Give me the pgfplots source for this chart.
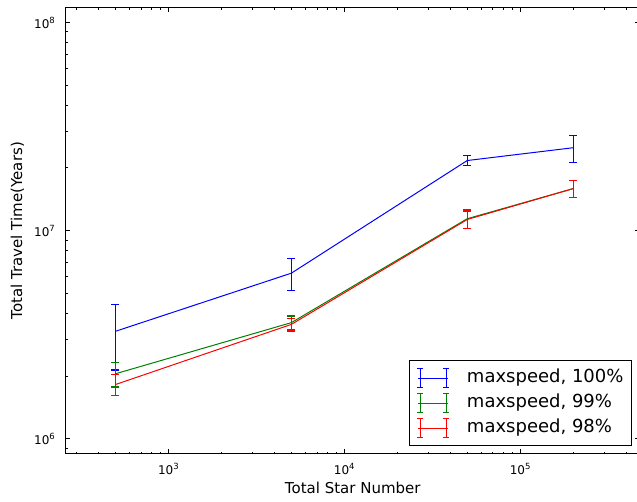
\documentclass[border=0pt]{standalone}
\usepackage{fontspec}
\setmainfont{DejaVu Sans}
\usepackage{pgfplots}
\pgfplotsset{compat=1.18}

\definecolor{mplgreen}{RGB}{0,128,0}
\newcommand{\tkf}{\fontsize{12}{14}\selectfont}
\newcommand{\powten}[1]{\mbox{\tkf 10\raisebox{5pt}{\fontsize{8.5}{10}\selectfont #1}}}

\pgfplotsset{
  errleg/.style={
    legend image code/.code={
      \draw[line width=1pt] (0pt,0pt) -- (30pt,0pt);
      \draw[line width=1pt] (2pt,-9.5pt) -- (2pt,9.5pt);
      \draw[line width=1pt] (28pt,-9.5pt) -- (28pt,9.5pt);
      \draw[line width=1pt] (-1pt,9.5pt) -- (5pt,9.5pt);
      \draw[line width=1pt] (-1pt,-9.5pt) -- (5pt,-9.5pt);
      \draw[line width=1pt] (25pt,9.5pt) -- (31pt,9.5pt);
      \draw[line width=1pt] (25pt,-9.5pt) -- (31pt,-9.5pt);
    }
  },
  errstyle/.style={
    error bars/error bar style={#1, line width=1pt},
    error bars/error mark options={#1, line width=1.3pt, mark size=4pt, rotate=90},
  }
}

\begin{document}
\begin{tikzpicture}
\useasboundingbox (-65.5pt,-47pt) rectangle (571.5pt,454pt);
\begin{axis}[
  at={(0pt,0pt)}, anchor=south west,
  scale only axis,
  width=574.5pt, height=446.5pt,
  xmode=log, ymode=log,
  xmin=260, xmax=4.8e5,
  ymin=8.44e5, ymax=1.18e8,
  xtick={1000,10000,100000},
  ytick={1e6,1e7,1e8},
  xticklabel={\pgfmathparse{int(round(\tick/2.302585))}\powten{\pgfmathresult}},
  yticklabel={\pgfmathparse{int(round(\tick/2.302585))}\powten{\pgfmathresult}},
  minor xtick={300,400,500,600,700,800,900,2000,3000,4000,5000,6000,7000,8000,9000,20000,30000,40000,50000,60000,70000,80000,90000,200000,300000,400000},
  minor ytick={9e5,2e6,3e6,4e6,5e6,6e6,7e6,8e6,9e6,2e7,3e7,4e7,5e7,6e7,7e7,8e7,9e7},
  tick align=inside,
  major tick length=5pt, minor tick length=2.5pt,
  every tick/.style={black, line width=1pt},
  axis line style={line width=1pt},
  xticklabel style={anchor=base, yshift=-21pt, inner sep=0pt},
  yticklabel style={anchor=base east, xshift=-10.5pt, yshift=-6pt, inner sep=0pt},
  xlabel={Total Star Number},
  ylabel={Total Travel Time(Years)},
  label style={font=\fontsize{15}{18}\selectfont},
  xlabel style={at={(axis description cs:0.5,-0.088)}, anchor=base, inner sep=0pt},
  ylabel style={at={(axis description cs:-0.0757,0.5)}, anchor=base, inner sep=0pt},
  legend cell align=left,
  legend style={
    at={(axis description cs:0.986,0.017)}, anchor=south east,
    draw=black, line width=1pt,
    font=\fontsize{18}{20}\selectfont,
    inner xsep=7pt, inner ysep=7.5pt,
    row sep=5pt, column sep=0pt,
    nodes={inner sep=1pt, text height=13pt, text depth=4pt},
  },
]
\addplot+[blue, line width=1pt, no marks, errleg, errstyle=blue,
  error bars/.cd, y dir=both, y explicit]
  coordinates {
    (500,3.28e6) +- (0,1.14e6)
    (5000,6.24e6) +- (0,1.08e6)
    (50000,2.17e7) +- (0,0.12e7)
    (200000,2.50e7) +- (0,0.37e7)
  };
\addlegendentry{\hspace{16pt}maxspeed, 100\%}
\addplot+[mplgreen, line width=1pt, no marks, errleg, errstyle=mplgreen,
  error bars/.cd, y dir=both, y explicit]
  coordinates {
    (500,2.05e6) +- (0,0.28e6)
    (5000,3.61e6) +- (0,0.27e6)
    (50000,1.14e7) +- (0,0.115e7)
    (200000,1.59e7) +- (0,0.15e7)
  };
\addlegendentry{\hspace{16pt}maxspeed, 99\%}
\addplot+[red, line width=1pt, no marks, errleg, errstyle=red,
  error bars/.cd, y dir=both, y explicit]
  coordinates {
    (500,1.82e6) +- (0,0.21e6)
    (5000,3.54e6) +- (0,0.25e6)
    (50000,1.13e7) +- (0,0.11e7)
    (200000,1.59e7) +- (0,0.15e7)
  };
\addlegendentry{\hspace{16pt}maxspeed, 98\%}
\end{axis}
\end{tikzpicture}
\end{document}
